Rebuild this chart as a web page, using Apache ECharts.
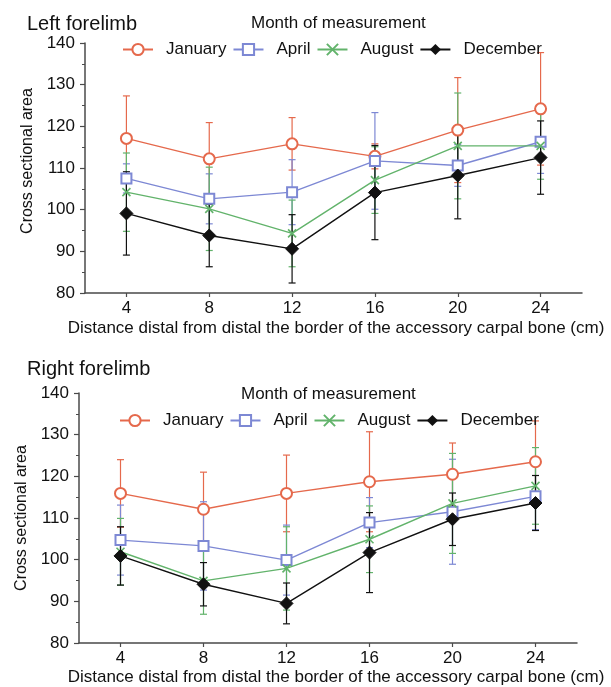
<!DOCTYPE html>
<html>
<head>
<meta charset="utf-8">
<script src="https://cdn.jsdelivr.net/npm/echarts@6/dist/echarts.min.js"></script>
<style>
html,body{margin:0;padding:0;background:#fff;}
#c{width:611px;height:687px;}
</style>
</head>
<body>
<div id="c"></div>
<script>
// ---- data ----
const distances = [4, 8, 12, 16, 20, 24];
const xTicks = [4, 8, 12, 16, 20, 24];
const months = ['January', 'April', 'August', 'December'];

const leftJan = [117.1, 112.2, 115.8, 112.8, 119.1, 124.2];
const leftJanSD = [10.2, 8.7, 6.3, 3.0, 12.6, 13.5];
const leftApr = [107.5, 102.6, 104.2, 111.7, 110.6, 116.3];
const leftAprSD = [3.5, 6.0, 7.8, 11.6, 5.0, 7.6];
const leftAug = [104.2, 100.2, 94.3, 107.1, 115.3, 115.3];
const leftAugSD = [9.4, 10.0, 8.0, 8.0, 12.7, 8.0];
const leftDec = [99.1, 93.8, 90.6, 104.1, 108.2, 112.5];
const leftDecSD = [10.0, 7.5, 8.2, 11.3, 10.4, 8.8];

const rightJan = [115.9, 112.1, 115.9, 118.7, 120.5, 123.5];
const rightJanSD = [8.1, 8.9, 9.2, 12.0, 7.5, 9.8];
const rightApr = [104.7, 103.3, 99.9, 108.9, 111.5, 115.2];
const rightAprSD = [8.4, 10.6, 8.4, 6.0, 12.6, 8.0];
const rightAug = [101.9, 94.9, 97.9, 104.9, 113.5, 117.7];
const rightAugSD = [8.0, 8.0, 10.0, 8.0, 12.0, 9.2];
const rightDec = [100.9, 94.1, 89.5, 101.7, 109.7, 113.6];
const rightDecSD = [7.0, 5.2, 4.9, 9.6, 6.3, 6.6];

// ---- styles ----
const FONT = '"Liberation Sans", Arial, Helvetica, sans-serif';
const AX = '#4a4a4a';
const colors = { January: '#e5694c', April: '#7d88d4', August: '#62b36b', December: '#111111' };
const symbols = {
  January: { symbol: 'emptyCircle', size: 11 },
  April: { symbol: 'emptyRect', size: 10 },
  August: { symbol: 'path://M0,0L10,10M10,0L0,10', size: 8 },
  December: { symbol: 'diamond', size: 13 }
};

const sets = [
  { vals: [leftJan, leftApr, leftAug, leftDec], sds: [leftJanSD, leftAprSD, leftAugSD, leftDecSD] },
  { vals: [rightJan, rightApr, rightAug, rightDec], sds: [rightJanSD, rightAprSD, rightAugSD, rightDecSD] }
];

function errRender(color) {
  return function (params, api) {
    const x = api.value(0), lo = api.value(1), hi = api.value(2);
    const pLo = api.coord([x, lo]);
    const pHi = api.coord([x, hi]);
    const w = 3.5;
    const st = { stroke: color, lineWidth: 1.2 };
    return {
      type: 'group',
      children: [
        { type: 'line', shape: { x1: pLo[0], y1: pLo[1], x2: pHi[0], y2: pHi[1] }, style: st },
        { type: 'line', shape: { x1: pLo[0] - w, y1: pLo[1], x2: pLo[0] + w, y2: pLo[1] }, style: st },
        { type: 'line', shape: { x1: pHi[0] - w, y1: pHi[1], x2: pHi[0] + w, y2: pHi[1] }, style: st }
      ]
    };
  };
}

const grids = [
  { left: 85, top: 43, width: 497, height: 250 },
  { left: 79, top: 393, width: 498, height: 250 }
];

const xAxes = grids.map((g, i) => ({
  type: 'value', gridIndex: i, min: 2, max: 26,
  name: 'Distance distal from distal the border of the accessory carpal bone (cm)',
  nameLocation: 'middle', nameGap: i === 0 ? 27 : 26,
  nameTextStyle: { fontFamily: FONT, fontSize: 17, color: '#111', padding: i === 0 ? [0, 0, 0, 5] : [0, 0, 0, 16] },
  axisLine: { show: true, lineStyle: { color: AX, width: 1.5 } },
  axisTick: { show: true, customValues: xTicks, length: 4, lineStyle: { color: AX, width: 1.2 } },
  axisLabel: { customValues: xTicks, fontFamily: FONT, fontSize: 17, color: '#111', margin: 7 },
  splitLine: { show: false }
}));

const yAxes = grids.map((g, i) => ({
  type: 'value', gridIndex: i, min: 80, max: 140, interval: 10,
  name: 'Cross sectional area', nameLocation: 'middle', nameGap: 48,
  nameRotate: 90,
  nameTextStyle: { fontFamily: FONT, fontSize: 16, color: '#111', padding: i === 0 ? [0, 0, 0, 14] : [0, 0, 0, 0] },
  axisLine: { show: true, lineStyle: { color: AX, width: 1.5 } },
  axisTick: { show: true, length: 5, lineStyle: { color: AX, width: 1.2 } },
  minorTick: { show: true, splitNumber: 2, length: 3, lineStyle: { color: AX, width: 1 } },
  axisLabel: { fontFamily: FONT, fontSize: 17, color: '#111', margin: 10 },
  splitLine: { show: false }
}));

const series = [];
sets.forEach((set, gi) => {
  months.forEach((m, mi) => {
    const vals = set.vals[mi], sds = set.sds[mi];
    series.push({
      type: 'custom', name: m + ' SD', xAxisIndex: gi, yAxisIndex: gi, z: 2,
      renderItem: errRender(colors[m]),
      itemStyle: { color: colors[m] },
      data: distances.map((d, k) => [d, vals[k] - sds[k], vals[k] + sds[k]]),
      silent: true
    });
  });
  months.forEach((m, mi) => {
    const vals = set.vals[mi];
    const s = symbols[m];
    series.push({
      type: 'line', name: m, xAxisIndex: gi, yAxisIndex: gi, z: 3 + mi,
      data: distances.map((d, k) => [d, vals[k]]),
      symbol: s.symbol, symbolSize: s.size, showAllSymbol: true,
      lineStyle: { color: colors[m], width: 1.4 },
      itemStyle: m === 'August'
        ? { color: colors[m], borderColor: colors[m], borderWidth: 1.6 }
        : (m === 'December' ? { color: colors[m], borderColor: colors[m] } : { color: colors[m], borderWidth: 1.3 }),
      animation: false
    });
  });
});

const legendBase = {
  data: months, orient: 'horizontal', itemWidth: 30, itemHeight: 14, itemGap: 6,
  textStyle: { fontFamily: FONT, fontSize: 17, color: '#111', padding: [0, 0, 0, 8] },
  selectedMode: false
};

const option = {
  animation: false,
  backgroundColor: '#fff',
  title: [
    { text: 'Left forelimb', left: 22, top: 9, textStyle: { fontFamily: FONT, fontSize: 20, fontWeight: 'normal', color: '#111' } },
    { text: 'Month of measurement', left: 246, top: 10, textStyle: { fontFamily: FONT, fontSize: 17, fontWeight: 'normal', color: '#111' } },
    { text: 'Right forelimb', left: 22, top: 354, textStyle: { fontFamily: FONT, fontSize: 20, fontWeight: 'normal', color: '#111' } },
    { text: 'Month of measurement', left: 236, top: 381, textStyle: { fontFamily: FONT, fontSize: 17, fontWeight: 'normal', color: '#111' } }
  ],
  legend: [
    Object.assign({}, legendBase, { left: 117, top: 36 }),
    Object.assign({}, legendBase, { left: 114, top: 407 })
  ],
  grid: grids,
  xAxis: xAxes,
  yAxis: yAxes,
  series: series
};

const chart = echarts.init(document.getElementById('c'), null, { renderer: 'canvas' });
chart.setOption(option);
</script>
</body>
</html>
